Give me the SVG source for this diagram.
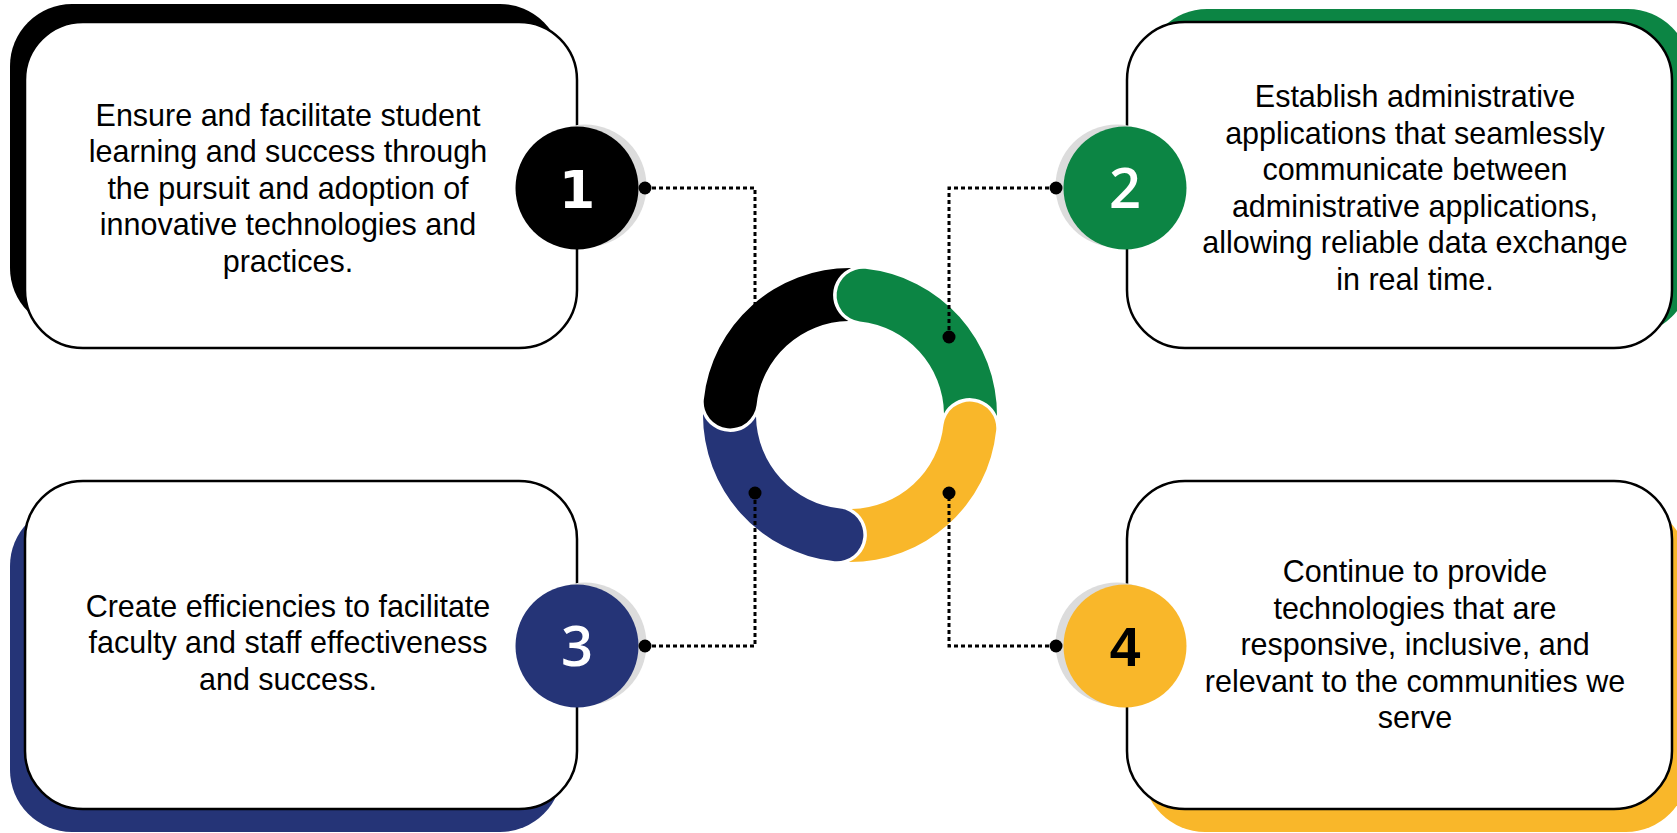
<svg xmlns="http://www.w3.org/2000/svg" width="1677" height="833" viewBox="0 0 1677 833">
<defs>
<style>
.box{fill:#ffffff;stroke:#000000;stroke-width:2.5}
.txt{font-family:"Liberation Sans",Arial,sans-serif;font-size:30.5px;fill:#000000;text-anchor:middle}
.num{font-family:"Open Sans","DejaVu Sans",sans-serif;font-weight:600;font-size:56px;text-anchor:middle}
.gray{fill:#dcdcdc}
.conn{fill:none;stroke:#000000;stroke-width:3;stroke-dasharray:4 3}
.dot{fill:#000000}
</style>
</defs>
<rect width="1677" height="833" fill="#ffffff"/>

<g id="node1">
<rect x="10" y="4" width="552" height="326" rx="62" fill="#000000"/>
<rect class="box" x="25" y="22" width="552" height="326" rx="58"/>
<text class="txt" x="288" y="125.5">Ensure and facilitate student</text>
<text class="txt" x="288" y="162">learning and success through</text>
<text class="txt" x="288" y="198.5">the pursuit and adoption of</text>
<text class="txt" x="288" y="235">innovative technologies and</text>
<text class="txt" x="288" y="271.5">practices.</text>
<circle class="gray" cx="585" cy="186" r="61.5"/>
<circle cx="577" cy="188" r="61.5" fill="#000000"/>
<text class="num" x="577" y="207.5" fill="#ffffff" style="font-family:'DejaVu Sans',sans-serif;font-weight:bold;font-size:52px">1</text>
</g>

<g id="node2">
<rect x="1145" y="9" width="545" height="326" rx="62" fill="#0c8544"/>
<rect class="box" x="1127" y="22" width="545" height="326" rx="58"/>
<text class="txt" x="1415" y="107.3">Establish administrative</text>
<text class="txt" x="1415" y="143.8">applications that seamlessly</text>
<text class="txt" x="1415" y="180.3">communicate between</text>
<text class="txt" x="1415" y="216.8">administrative applications,</text>
<text class="txt" x="1415" y="253.3">allowing reliable data exchange</text>
<text class="txt" x="1415" y="289.8">in real time.</text>
<circle class="gray" cx="1117" cy="186" r="61.5"/>
<circle cx="1125" cy="188" r="61.5" fill="#0c8544"/>
<text class="num" x="1125" y="208" fill="#ffffff">2</text>
</g>

<g id="node3">
<rect x="10" y="504" width="552" height="328" rx="62" fill="#253477"/>
<rect class="box" x="25" y="481" width="552" height="328" rx="58"/>
<text class="txt" x="288" y="616.5">Create efficiencies to facilitate</text>
<text class="txt" x="288" y="653">faculty and staff effectiveness</text>
<text class="txt" x="288" y="689.5">and success.</text>
<circle class="gray" cx="585" cy="644" r="61.5"/>
<circle cx="577" cy="646" r="61.5" fill="#253477"/>
<text class="num" x="577" y="666" fill="#ffffff">3</text>
</g>

<g id="node4">
<rect x="1143" y="504" width="545" height="328" rx="62" fill="#f9b72a"/>
<rect class="box" x="1127" y="481" width="545" height="328" rx="58"/>
<text class="txt" x="1415" y="582">Continue to provide</text>
<text class="txt" x="1415" y="618.5">technologies that are</text>
<text class="txt" x="1415" y="655">responsive, inclusive, and</text>
<text class="txt" x="1415" y="691.5">relevant to the communities we</text>
<text class="txt" x="1415" y="728">serve</text>
<circle class="gray" cx="1117" cy="644" r="61.5"/>
<circle cx="1125" cy="646" r="61.5" fill="#f9b72a"/>
<text class="num" x="1125" y="666" fill="#000000" style="font-family:'Liberation Sans',Arial,sans-serif;font-weight:bold;font-size:55px">4</text>
</g>

<g id="ring">
<path fill="#0c8544" d="M 865.37 268.81 A 147 147 0 0 1 996.99 416.08 A 29.5 29.5 0 0 0 943.99 413.39 A 94 94 0 0 0 859.83 321.51 A 26.5 26.5 0 0 1 865.37 268.81 Z"/>
<path fill="#f9b72a" d="M 996.19 430.37 A 147 147 0 0 1 848.92 562.00 A 29.5 29.5 0 0 0 851.61 508.99 A 94 94 0 0 0 943.49 424.83 A 26.5 26.5 0 0 1 996.19 430.37 Z"/>
<path fill="#253477" d="M 834.63 561.19 A 147 147 0 0 1 703.00 413.92 A 29.5 29.5 0 0 0 756.01 416.61 A 94 94 0 0 0 840.17 508.49 A 26.5 26.5 0 0 1 834.63 561.19 Z"/>
<path fill="#000000" d="M 703.81 399.63 A 147 147 0 0 1 851.08 268.00 A 29.5 29.5 0 0 0 848.39 321.01 A 94 94 0 0 0 756.51 405.17 A 26.5 26.5 0 0 1 703.81 399.63 Z"/>
</g>

<g id="connectors">
<polyline class="conn" points="645,188 755,188 755,337"/>
<polyline class="conn" points="1056,188 949,188 949,337"/>
<polyline class="conn" points="645,646 755,646 755,493"/>
<polyline class="conn" points="1056,646 949,646 949,493"/>
<circle class="dot" cx="645" cy="188" r="6.5"/>
<circle class="dot" cx="1056" cy="188" r="6.5"/>
<circle class="dot" cx="949" cy="337" r="6.5"/>
<circle class="dot" cx="645" cy="646" r="6.5"/>
<circle class="dot" cx="755" cy="493" r="6.5"/>
<circle class="dot" cx="1056" cy="646" r="6.5"/>
<circle class="dot" cx="949" cy="493" r="6.5"/>
</g>
</svg>
